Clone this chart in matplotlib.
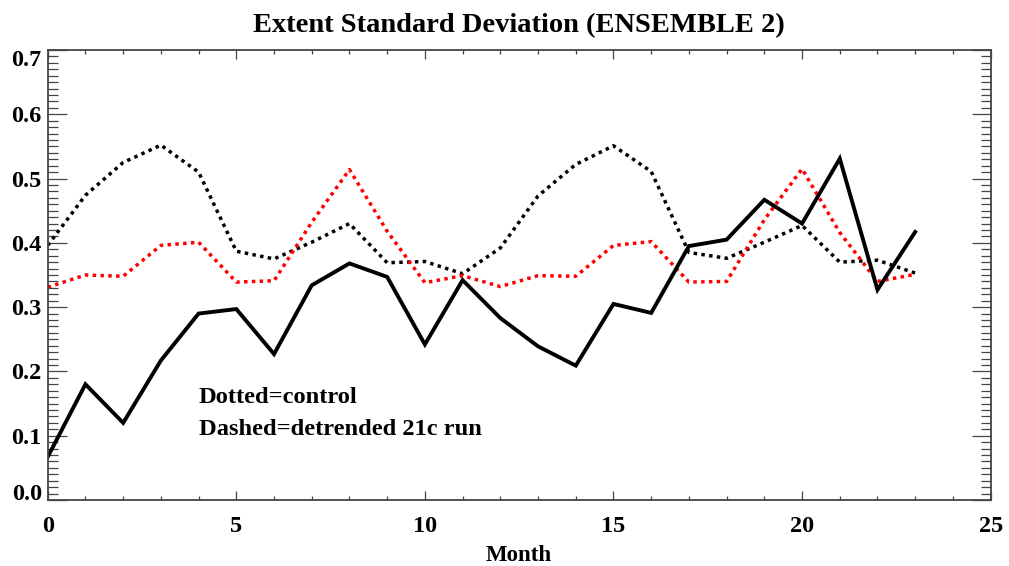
import matplotlib
matplotlib.use("Agg")
import matplotlib.pyplot as plt
from matplotlib.ticker import MultipleLocator, FormatStrFormatter

plt.rcParams['font.family'] = ['Liberation Serif', 'DejaVu Serif']
plt.rcParams['font.weight'] = 'bold'

# Monthly standard deviation of sea-ice extent
months = list(range(24))
ensemble = [0.067, 0.180, 0.120, 0.217, 0.290, 0.297, 0.227, 0.334, 0.368, 0.347,
            0.242, 0.342, 0.283, 0.239, 0.209, 0.305, 0.291, 0.395, 0.405, 0.467,
            0.430, 0.531, 0.327, 0.417]
control = [0.396, 0.474, 0.525, 0.552, 0.510, 0.387, 0.375, 0.401, 0.430, 0.369,
           0.371, 0.352, 0.392, 0.473, 0.522, 0.551, 0.511, 0.385, 0.376, 0.401,
           0.427, 0.370, 0.373, 0.353]
detrended = [0.331, 0.350, 0.348, 0.396, 0.401, 0.339, 0.341, 0.432, 0.514, 0.418,
             0.338, 0.349, 0.332, 0.349, 0.348, 0.396, 0.402, 0.339, 0.340, 0.436,
             0.515, 0.416, 0.340, 0.351]

title = "Extent Standard Deviation (ENSEMBLE 2)"
xlabel = "Month"
notes = ["Dotted=control", "Dashed=detrended 21c run"]

fig = plt.figure(figsize=(10.09, 5.66), dpi=100)
ax = fig.add_axes([0.0473, 0.1166, 0.9345, 0.7951])

dots = (0, (1.0, 1.25))
ax.plot(months, control, color='black', lw=2.5, linestyle=dots)
ax.plot(months, detrended, color='#ff0000', lw=2.5, linestyle=dots)
ax.plot(months, ensemble, color='black', lw=2.8, solid_joinstyle='miter')

ax.set_xlim(0, 25)
ax.set_ylim(0, 0.7)

ax.xaxis.set_major_locator(MultipleLocator(5))
ax.xaxis.set_minor_locator(MultipleLocator(1))
ax.yaxis.set_major_locator(MultipleLocator(0.1))
ax.yaxis.set_minor_locator(MultipleLocator(0.01))
ax.yaxis.set_major_formatter(FormatStrFormatter('%.1f'))

spine_col = '#444444'
for s in ax.spines.values():
    s.set_color(spine_col)
    s.set_linewidth(1.3)

ax.tick_params(axis='both', which='both', direction='in', top=True, right=True,
               color=spine_col, width=0.9, labelsize=17.5)
ax.tick_params(axis='y', which='major', length=13.7, pad=4.3)
ax.tick_params(axis='y', which='minor', length=7.0)
ax.tick_params(axis='x', which='major', length=6.5, pad=11.5)
ax.tick_params(axis='x', which='minor', length=3.1)

ax.set_title(title, fontsize=20.5, fontweight='bold', pad=13)
ax.set_xlabel(xlabel, fontsize=16.5, fontweight='bold', labelpad=5.5)

ax.text(4.0, 0.151, notes[0], fontsize=17.6, fontweight='bold', va='baseline')
ax.text(4.0, 0.101, notes[1], fontsize=17.6, fontweight='bold', va='baseline')

# keep the end labels inside the frame: bottom one sits on its tick, top one hangs below it
fig.canvas.draw()
for tick in ax.yaxis.get_major_ticks():
    loc = tick.get_loc()
    if abs(loc) < 1e-9:
        tick.label1.set_va('baseline')
    elif abs(loc - 0.7) < 1e-9:
        tick.label1.set_va('top')

fig.savefig("out.png", dpi=100)
